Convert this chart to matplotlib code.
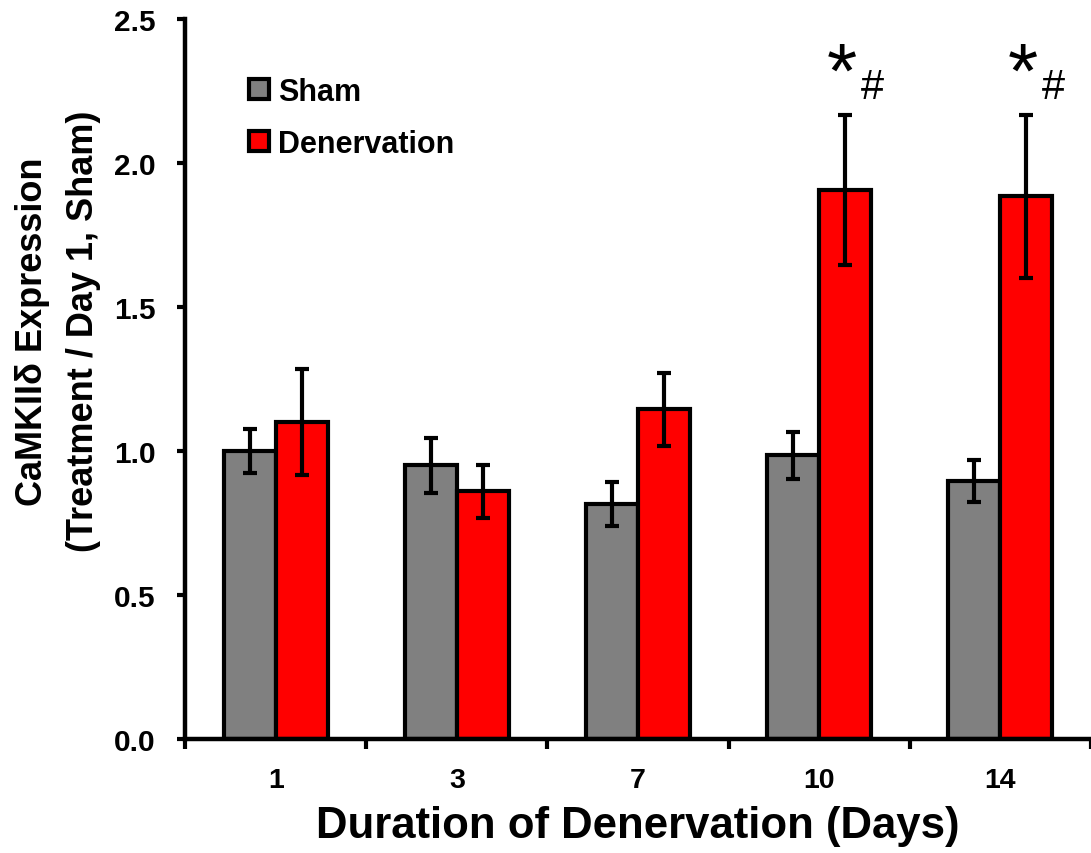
import numpy as np
import matplotlib.pyplot as plt

plt.rcParams['font.family'] = ['Liberation Sans', 'DejaVu Sans']
plt.rcParams['font.weight'] = 'bold'

days = ['1', '3', '7', '10', '14']
sham = [1.00, 0.95, 0.815, 0.985, 0.895]
sham_err = [0.075, 0.095, 0.076, 0.082, 0.072]
denervation = [1.10, 0.86, 1.145, 1.905, 1.885]
denervation_err = [0.185, 0.093, 0.127, 0.26, 0.283]
# significance marks above the denervation bars
marked = [3, 4]

ind = np.arange(len(days)) + 0.5   # group centres, boundaries at integers
width = 0.287

fig = plt.figure(figsize=(10.91, 8.54), dpi=100)
ax = fig.add_axes([0.1696, 0.1335, 0.8304, 0.8431])

err_kw = dict(ecolor='black', elinewidth=3, capsize=5, capthick=3)
rects1 = ax.bar(ind - width / 2, sham, width, color='#808080', edgecolor='black',
                linewidth=3, yerr=sham_err, error_kw=err_kw, zorder=2)
rects2 = ax.bar(ind + width / 2, denervation, width, color='#FF0000', edgecolor='black',
                linewidth=3, yerr=denervation_err, error_kw=err_kw, zorder=2)

for i in marked:
    x = ind[i] + width / 2
    ax.text(x - 0.02, 2.30, '*', fontsize=56, fontweight='normal', ha='center', va='center')
    ax.text(x + 0.15, 2.265, '#', fontsize=30, fontweight='normal', ha='center', va='center')

ax.set_xlim(0, 5)
ax.set_ylim(0, 2.5)
ax.set_yticks(np.arange(0, 2.51, 0.5))
ax.set_yticklabels(['%.1f' % v for v in np.arange(0, 2.51, 0.5)])
ax.set_xticks(np.arange(0, 6))
ax.set_xticklabels([])
ax.set_xticks(ind, minor=True)
ax.set_xticklabels(days, minor=True)
ax.tick_params(axis='x', which='minor', length=0, pad=20, labelsize=20.5)
ax.tick_params(axis='x', which='major', direction='out', length=7, width=3)
ax.tick_params(axis='y', direction='out', length=6, width=3, labelsize=21.5, pad=15)

for side in ['top', 'right']:
    ax.spines[side].set_visible(False)
for side in ['left', 'bottom']:
    ax.spines[side].set_linewidth(3.2)

ax.set_xlabel('Duration of Denervation (Days)', fontsize=31.5, fontweight='bold', labelpad=9)
ax.set_ylabel('CaMKIIδ Expression\n(Treatment / Day 1, Sham)', fontsize=26,
              fontweight='bold', linespacing=1.6)
ax.yaxis.set_label_coords(-0.093, 0.567)

leg = ax.legend((rects1[0], rects2[0]), ('Sham', 'Denervation'), loc='upper left',
                bbox_to_anchor=(0.04, 0.958), frameon=False, fontsize=22,
                handlelength=0.65, handleheight=0.65, handletextpad=0.3, labelspacing=0.72)

fig.savefig('out.png', dpi=100)
